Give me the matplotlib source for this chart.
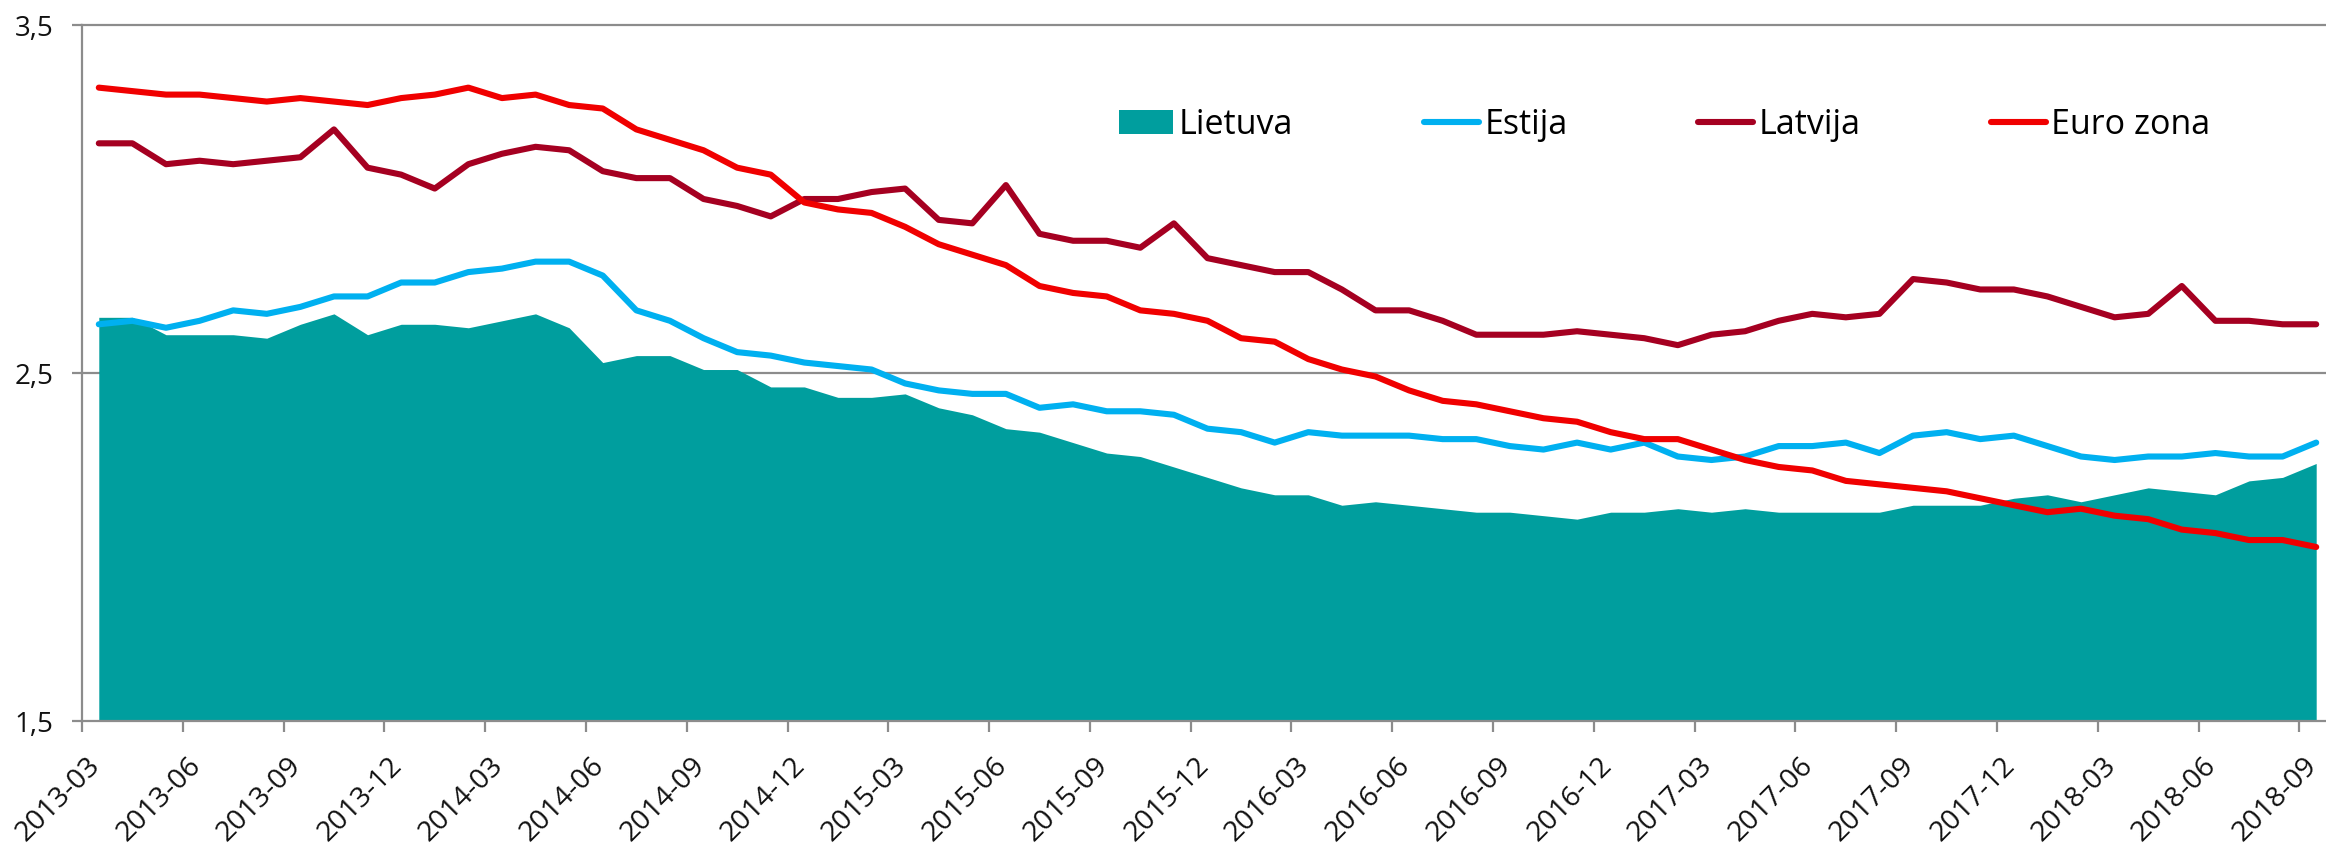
import matplotlib
matplotlib.use("Agg")
import matplotlib.pyplot as plt
import matplotlib.transforms as mtransforms
from matplotlib.patches import Patch
from matplotlib.lines import Line2D

plt.rcParams['font.family'] = ['Open Sans', 'DejaVu Sans']

months = [f"{y}-{m:02d}" for y in range(2013, 2019) for m in range(1, 13)]
months = months[months.index("2013-03"):months.index("2018-09") + 1]

tick_labels = ["2013-03", "2013-06", "2013-09", "2013-12", "2014-03", "2014-06",
               "2014-09", "2014-12", "2015-03", "2015-06", "2015-09", "2015-12",
               "2016-03", "2016-06", "2016-09", "2016-12", "2017-03", "2017-06",
               "2017-09", "2017-12", "2018-03", "2018-06", "2018-09"]

lietuva = [2.66, 2.66, 2.61, 2.61, 2.61, 2.60, 2.64, 2.67, 2.61, 2.64, 2.64, 2.63,
           2.65, 2.67, 2.63, 2.53, 2.55, 2.55, 2.51, 2.51, 2.46, 2.46, 2.43, 2.43,
           2.44, 2.40, 2.38, 2.34, 2.33, 2.30, 2.27, 2.26, 2.23, 2.20, 2.17, 2.15,
           2.15, 2.12, 2.13, 2.12, 2.11, 2.10, 2.10, 2.09, 2.08, 2.10, 2.10, 2.11,
           2.10, 2.11, 2.10, 2.10, 2.10, 2.10, 2.12, 2.12, 2.12, 2.14, 2.15, 2.13,
           2.15, 2.17, 2.16, 2.15, 2.19, 2.20, 2.24]

estija = [2.64, 2.65, 2.63, 2.65, 2.68, 2.67, 2.69, 2.72, 2.72, 2.76, 2.76, 2.79,
          2.80, 2.82, 2.82, 2.78, 2.68, 2.65, 2.60, 2.56, 2.55, 2.53, 2.52, 2.51,
          2.47, 2.45, 2.44, 2.44, 2.40, 2.41, 2.39, 2.39, 2.38, 2.34, 2.33, 2.30,
          2.33, 2.32, 2.32, 2.32, 2.31, 2.31, 2.29, 2.28, 2.30, 2.28, 2.30, 2.26,
          2.25, 2.26, 2.29, 2.29, 2.30, 2.27, 2.32, 2.33, 2.31, 2.32, 2.29, 2.26,
          2.25, 2.26, 2.26, 2.27, 2.26, 2.26, 2.30]

latvija = [3.16, 3.16, 3.10, 3.11, 3.10, 3.11, 3.12, 3.20, 3.09, 3.07, 3.03, 3.10,
           3.13, 3.15, 3.14, 3.08, 3.06, 3.06, 3.00, 2.98, 2.95, 3.00, 3.00, 3.02,
           3.03, 2.94, 2.93, 3.04, 2.90, 2.88, 2.88, 2.86, 2.93, 2.83, 2.81, 2.79,
           2.79, 2.74, 2.68, 2.68, 2.65, 2.61, 2.61, 2.61, 2.62, 2.61, 2.60, 2.58,
           2.61, 2.62, 2.65, 2.67, 2.66, 2.67, 2.77, 2.76, 2.74, 2.74, 2.72, 2.69,
           2.66, 2.67, 2.75, 2.65, 2.65, 2.64, 2.64]

euro_zona = [3.32, 3.31, 3.30, 3.30, 3.29, 3.28, 3.29, 3.28, 3.27, 3.29, 3.30, 3.32,
             3.29, 3.30, 3.27, 3.26, 3.20, 3.17, 3.14, 3.09, 3.07, 2.99, 2.97, 2.96,
             2.92, 2.87, 2.84, 2.81, 2.75, 2.73, 2.72, 2.68, 2.67, 2.65, 2.60, 2.59,
             2.54, 2.51, 2.49, 2.45, 2.42, 2.41, 2.39, 2.37, 2.36, 2.33, 2.31, 2.31,
             2.28, 2.25, 2.23, 2.22, 2.19, 2.18, 2.17, 2.16, 2.14, 2.12, 2.10, 2.11,
             2.09, 2.08, 2.05, 2.04, 2.02, 2.02, 2.00]

C_LT = '#009E9E'
C_EE = '#00B0F0'
C_LV = '#A50021'
C_EU = '#F00000'
GRAY = '#8C8C8C'

W, H, DPI = 2326, 850, 100
fig = plt.figure(figsize=(W / DPI, H / DPI), dpi=DPI)
ax = fig.add_axes([82 / W, (H - 721) / H, 2251 / W, 696 / H])

x = list(range(len(months)))
ymin = 1.5
ax.fill_between(x, [ymin] * len(x), lietuva, color=C_LT, linewidth=0, zorder=2)
lw = 4.4
for vals, col in [(estija, C_EE), (latvija, C_LV), (euro_zona, C_EU)]:
    ax.plot(x, vals, color=col, lw=lw, solid_capstyle='round',
            solid_joinstyle='round', zorder=3)

ax.set_xlim(-0.5, len(months) - 0.5)
ax.set_ylim(1.5, 3.5)

# y axis
ax.set_yticks([1.5, 2.5, 3.5])
ax.set_yticklabels(["1,5", "2,5", "3,5"])
ax.tick_params(axis='y', direction='out', length=7.5, width=1.6, color=GRAY,
               labelsize=20, pad=13, labelcolor='#111111')
for yv in [2.5, 3.5]:
    ax.axhline(yv, color=GRAY, lw=1.6, zorder=1, clip_on=False)

# x axis: tick marks at category boundaries, labels at categories
boundaries = [i - 0.5 for i in range(0, len(months), 3)]
ax.set_xticks(boundaries)
ax.set_xticklabels([])
label_pos = [months.index(t) for t in tick_labels]
ax.set_xticks(label_pos, minor=True)
ax.set_xticklabels(tick_labels, minor=True, rotation=45, ha='right', va='top')
ax.tick_params(axis='x', which='major', direction='out', length=8, width=1.6, color=GRAY)
ax.tick_params(axis='x', which='minor', length=0, labelsize=20.5, pad=22,
               labelcolor='#111111')
offset = mtransforms.ScaledTranslation(7 / DPI, 0, fig.dpi_scale_trans)
for lab in ax.get_xticklabels(minor=True):
    lab.set_transform(lab.get_transform() + offset)

for s in ['top', 'right']:
    ax.spines[s].set_visible(False)
for s in ['left', 'bottom']:
    ax.spines[s].set_color(GRAY)
    ax.spines[s].set_linewidth(1.6)
    ax.spines[s].set_zorder(4)

handles = [Patch(facecolor=C_LT, edgecolor='none', label='Lietuva'),
           Line2D([], [], color=C_EE, lw=lw, solid_capstyle='round', label='Estija'),
           Line2D([], [], color=C_LV, lw=lw, solid_capstyle='round', label='Latvija'),
           Line2D([], [], color=C_EU, lw=lw, solid_capstyle='round', label='Euro zona')]
fig.legend(handles=handles, loc='center left', bbox_to_anchor=(1119 / W, 1 - 125 / H),
           ncol=4, frameon=False, fontsize=24.5, handlelength=1.6, handleheight=0.69,
           handletextpad=0.16, columnspacing=3.85, borderpad=0, borderaxespad=0)

fig.savefig('out.png', dpi=DPI)
